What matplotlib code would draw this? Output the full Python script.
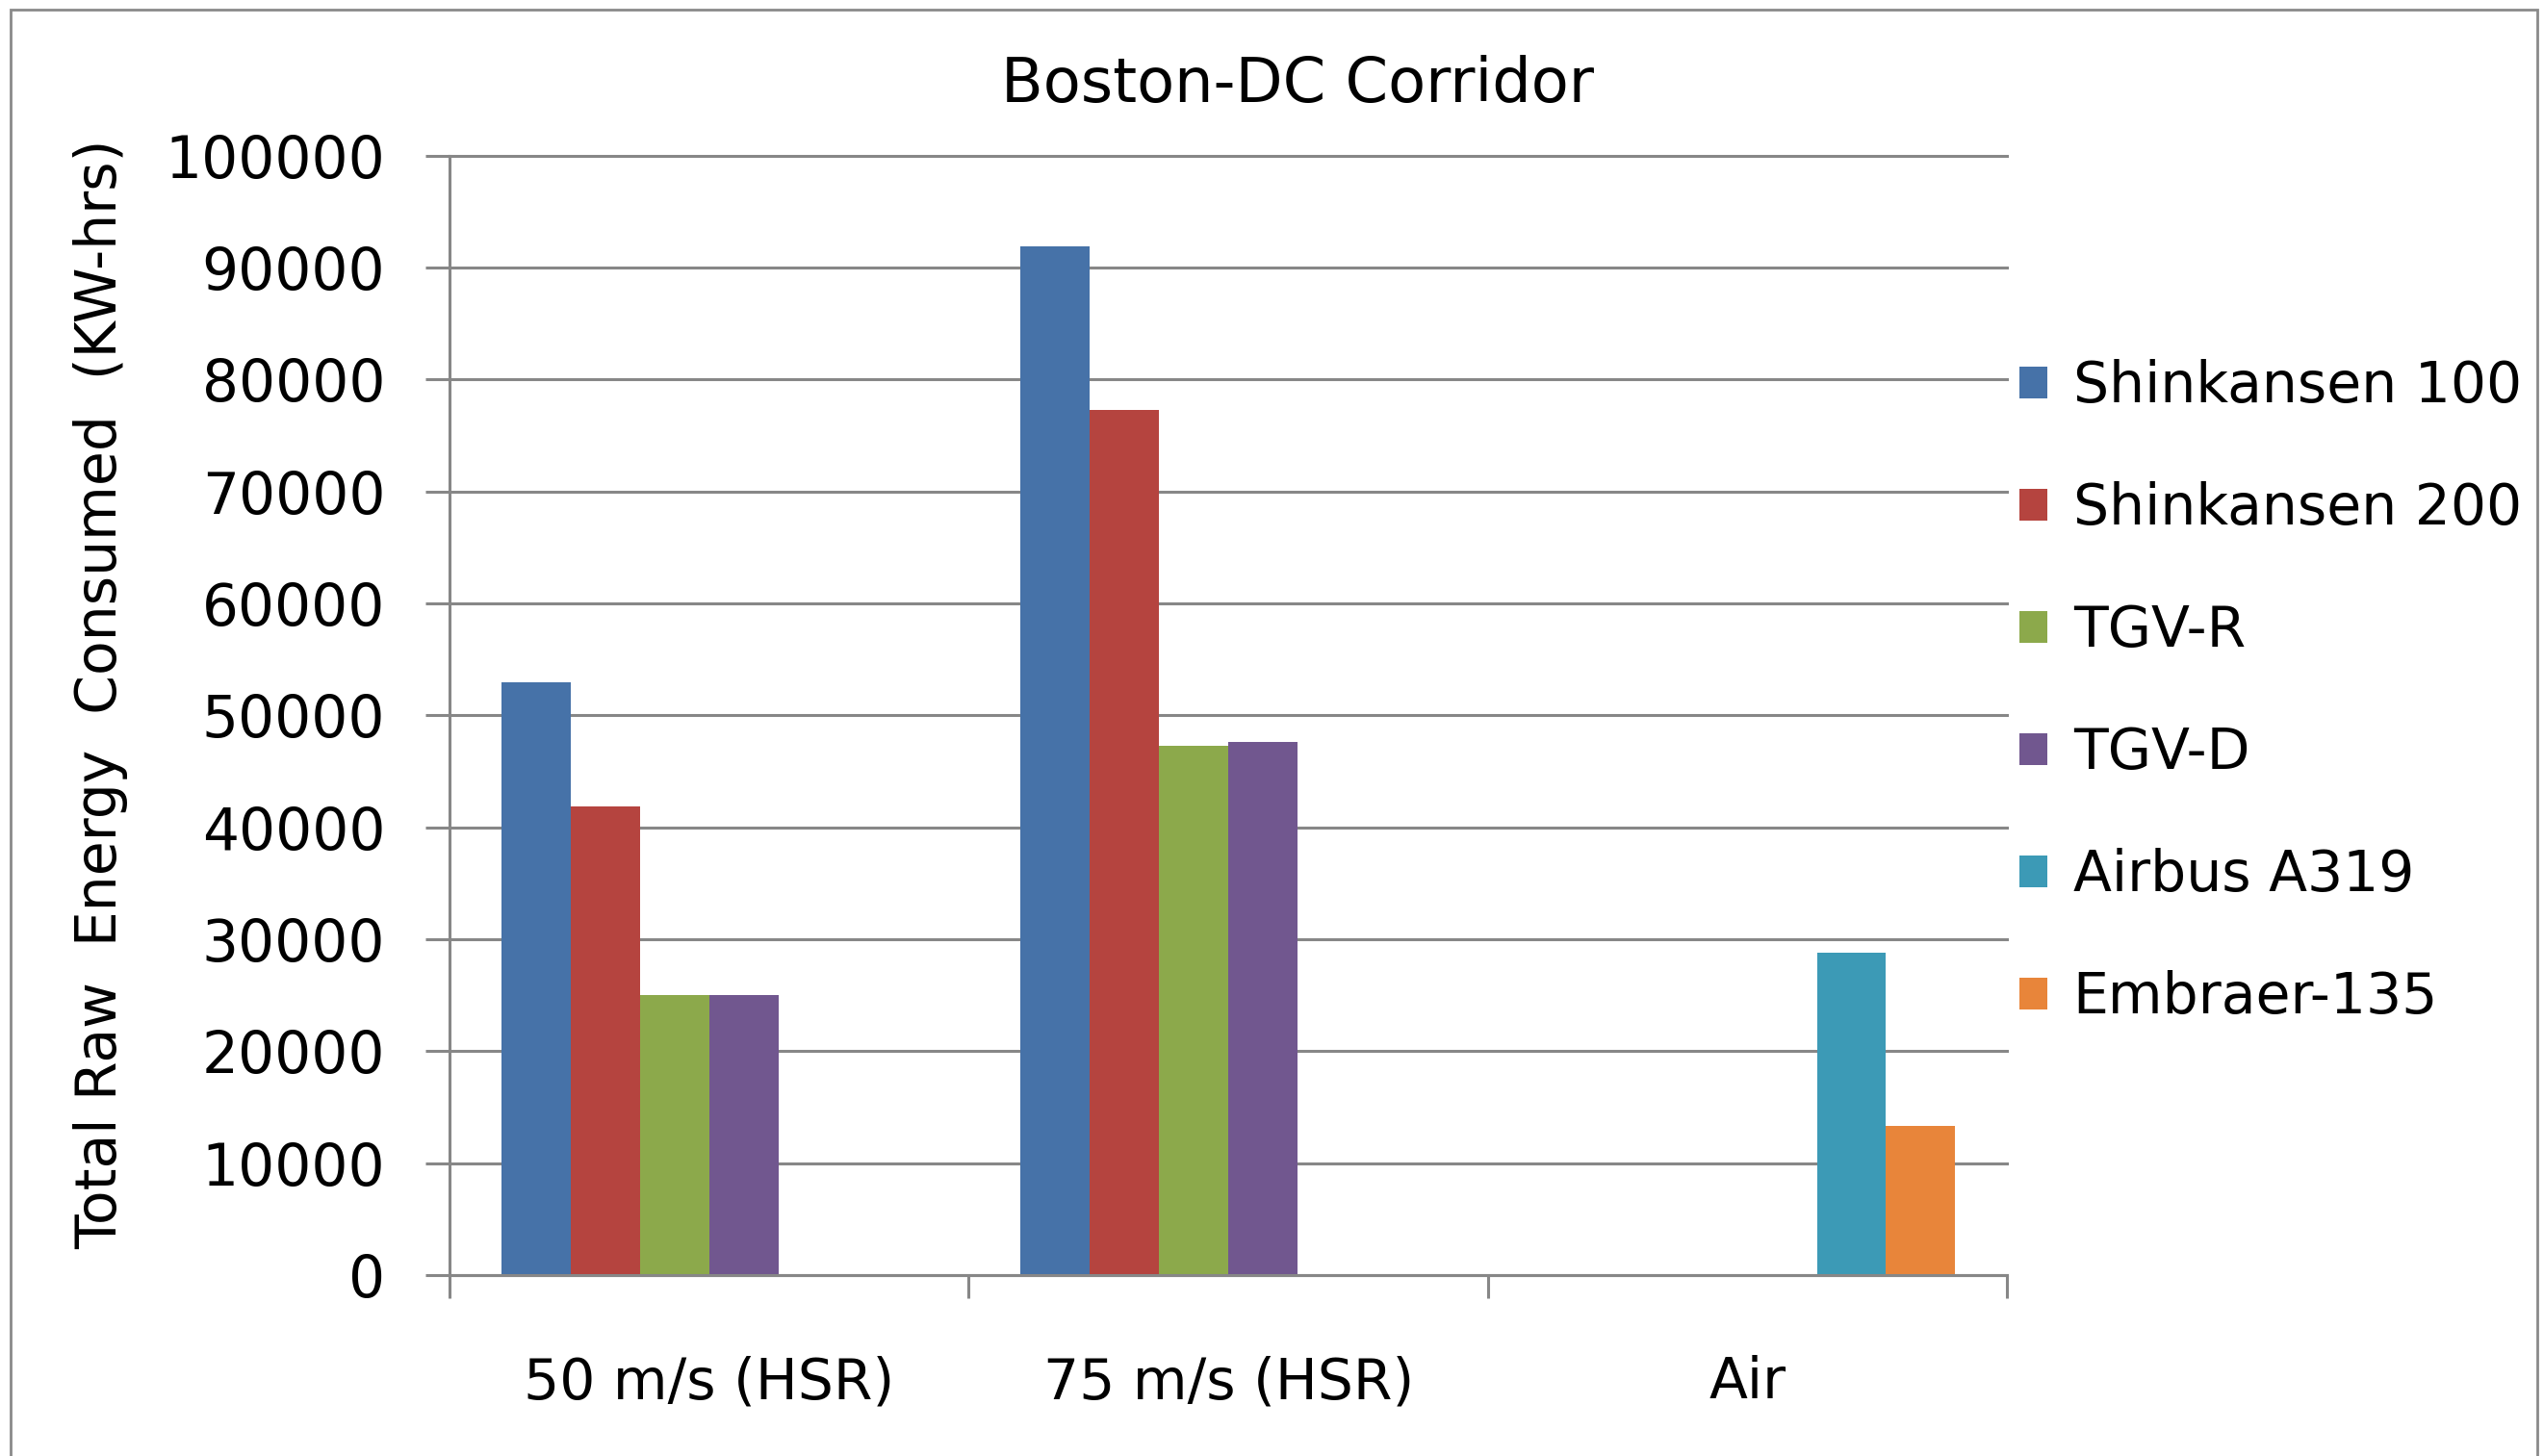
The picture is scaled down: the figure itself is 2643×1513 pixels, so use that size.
import numpy as np
import matplotlib
matplotlib.use("Agg")
import matplotlib.pyplot as plt
from matplotlib.patches import Rectangle

# --- datos ---
categories = ["50 m/s (HSR)", "75 m/s (HSR)", "Air"]
series = ["Shinkansen 100", "Shinkansen 200", "TGV-R", "TGV-D",
          "Airbus A319", "Embraer-135"]
shinkansen_100 = [53000, 91900, 0]
shinkansen_200 = [41900, 77300, 0]
tgv_r = [25000, 47300, 0]
tgv_d = [25000, 47600, 0]
airbus_a319 = [0, 0, 28800]
embraer_135 = [0, 0, 13350]
values = [shinkansen_100, shinkansen_200, tgv_r, tgv_d, airbus_a319, embraer_135]
colors = ["#4672A8", "#B5443F", "#8CA94B", "#71578F", "#3C9AB6", "#E8853A"]
yticks = list(range(0, 100001, 10000))

grid_col = "#878787"
plt.rcParams["font.family"] = ["DejaVu Sans"]

fig = plt.figure(figsize=(26.43, 15.13), dpi=100)
ax = fig.add_axes([0.1767, 0.1243, 0.789 - 0.1767, 0.893 - 0.1243])

x = np.arange(len(categories))
w = 1 / 7.5
for i, (name, vals, col) in enumerate(zip(series, values, colors)):
    ax.bar(x + (i - 2.5) * w, vals, width=w, color=col, label=name, linewidth=0)

ax.set_xlim(-0.5, 2.5)
ax.set_ylim(0, 100000)
ax.set_yticks(yticks)
ax.set_yticklabels([str(v) for v in yticks])
ax.yaxis.grid(True, color=grid_col, linewidth=2.2)
ax.set_axisbelow(True)
for gl in ax.get_ygridlines():
    gl.set_clip_on(False)

ax.set_xticks(x)
ax.set_xticklabels(categories)
ax.set_xticks([-0.5, 0.5, 1.5, 2.5], minor=True)
ax.tick_params(axis="x", which="major", length=0, pad=60, labelsize=42)
ax.tick_params(axis="x", which="minor", length=17, width=2.2, color=grid_col,
               direction="out")
ax.tick_params(axis="y", length=18, width=2.2, color=grid_col, direction="out",
               pad=30, labelsize=43)

for s in ["top", "right"]:
    ax.spines[s].set_visible(False)
for s in ["left", "bottom"]:
    ax.spines[s].set_color(grid_col)
    ax.spines[s].set_linewidth(2.2)

# titulo y etiqueta del eje
fig.text(0.510, 0.942, "Boston-DC Corridor", ha="center", va="center", fontsize=46)
fig.text(0.0397, 0.523, "Total Raw  Energy  Consumed  (KW-hrs)", rotation=90,
         ha="center", va="center", fontsize=42)

leg = ax.legend(loc="center left", bbox_to_anchor=(0.7939, 0.5247),
                bbox_transform=fig.transFigure, frameon=False, fontsize=42,
                handlelength=0.5, handleheight=0.5, handletextpad=0.45,
                labelspacing=1.2, borderpad=0, borderaxespad=0)

# borde exterior del grafico
fig.patches.append(Rectangle((11 / 2643, -0.02), 2625 / 2643, 1.02 - 10 / 1513,
                             transform=fig.transFigure, fill=False,
                             edgecolor="#8a8a8a", linewidth=2.0))

fig.savefig("out.png", dpi=100, facecolor="white")
